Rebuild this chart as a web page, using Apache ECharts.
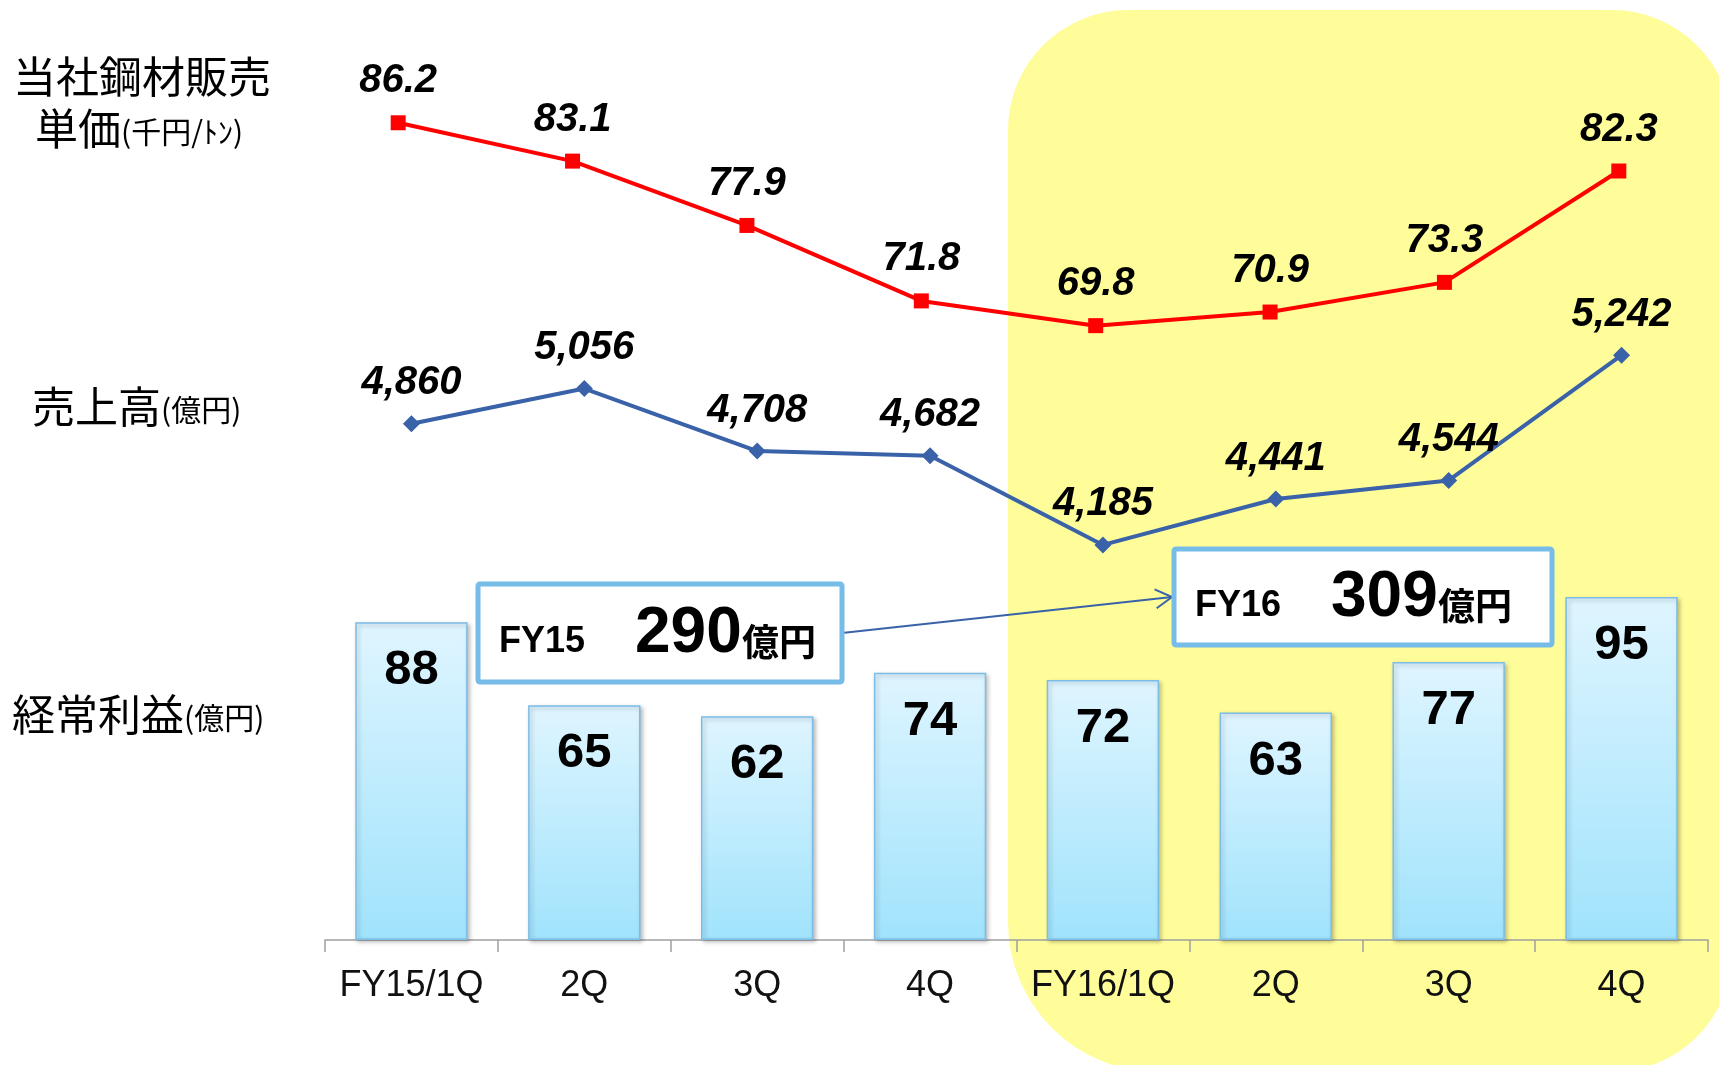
<!DOCTYPE html>
<html>
<head>
<meta charset="utf-8">
<script src="https://cdn.jsdelivr.net/npm/echarts@6/dist/echarts.min.js"></script>
<style>
html,body{margin:0;padding:0;background:#fff;}
#main{width:1719px;height:1065px;}
</style>
</head>
<body>
<div id="main"></div>
<script>
const categories = ['FY15/1Q', '2Q', '3Q', '4Q', 'FY16/1Q', '2Q', '3Q', '4Q'];
const priceValues = [86.2, 83.1, 77.9, 71.8, 69.8, 70.9, 73.3, 82.3];
const salesValues = [4860, 5056, 4708, 4682, 4185, 4441, 4544, 5242];
const profitValues = [88, 65, 62, 74, 72, 63, 77, 95];
const fyTotals = [{fy: 'FY15', value: 290}, {fy: 'FY16', value: 309}];

const chart = echarts.init(document.getElementById('main'), null, {renderer: 'canvas'});

const latin = '"Liberation Sans", Arial, sans-serif';
const cjk = '"Noto Sans CJK JP", sans-serif';

function fmtComma(v) {
  return String(v).replace(/\B(?=(\d{3})+(?!\d))/g, ',');
}

// arrow chevron
const ax0 = 842, ay0 = 633, ax1 = 1172, ay1 = 597;
const dx = ax1 - ax0, dy = ay1 - ay0, L = Math.sqrt(dx * dx + dy * dy);
const ux = -dx / L, uy = -dy / L;
const hl = 19, ang = Math.PI / 6;
function rot(x, y, a) { return [x * Math.cos(a) - y * Math.sin(a), x * Math.sin(a) + y * Math.cos(a)]; }
const h1 = rot(ux, uy, ang), h2 = rot(ux, uy, -ang);

const boxStyle = {fill: '#fff', stroke: '#76BCE9', lineWidth: 5};
const bigF = '43px ' + cjk, smallF = '30px ' + cjk;
const leftRich = {a: {font: bigF, verticalAlign: 'bottom'},
                  b: {font: smallF, verticalAlign: 'bottom', padding: [0, 0, 3, 0]}};

const option = {
  backgroundColor: '#fff',
  animation: false,
  grid: [
    {left: 325, right: 11, top: 40, bottom: 125},
    {left: 311, right: 13, top: 40, bottom: 125}
  ],
  xAxis: [
    {
      type: 'category', gridIndex: 0, data: categories, boundaryGap: true,
      axisLine: {show: true, lineStyle: {color: '#A0A0A0', width: 1.5}},
      axisTick: {show: true, length: 12, lineStyle: {color: '#A0A0A0', width: 1.5}},
      axisLabel: {color: '#111', fontSize: 36, fontFamily: latin, margin: 28, interval: 0}
    },
    {
      type: 'category', gridIndex: 1, data: categories, boundaryGap: true, show: false
    }
  ],
  yAxis: [
    {type: 'value', gridIndex: 0, min: 0, max: 249.3, show: false, splitLine: {show: false}},
    {type: 'value', gridIndex: 0, min: 1984, max: 6998, show: false, splitLine: {show: false}},
    {type: 'value', gridIndex: 1, min: 20.14, max: 92.89, show: false, splitLine: {show: false}}
  ],
  series: [
    {
      name: '経常利益', type: 'bar', xAxisIndex: 0, yAxisIndex: 0, data: profitValues,
      barWidth: '65%', z: 2,
      itemStyle: {
        color: new echarts.graphic.LinearGradient(0, 0, 0, 1, [
          {offset: 0, color: '#DFF5FF'}, {offset: 1, color: '#A0E3FC'}
        ]),
        borderColor: '#7CBDE8', borderWidth: 1.5,
        shadowBlur: 4, shadowColor: 'rgba(0,0,0,0.25)', shadowOffsetX: 2, shadowOffsetY: 2
      },
      label: {
        show: true, position: 'insideTop', distance: 24,
        fontSize: 49, fontWeight: 'bold', fontFamily: latin, color: '#000'
      }
    },
    {
      name: '売上高', type: 'line', xAxisIndex: 0, yAxisIndex: 1, data: salesValues, z: 5,
      symbol: 'diamond', symbolSize: 17,
      lineStyle: {color: '#3A62A9', width: 4},
      itemStyle: {color: '#3A62A9'},
      label: {
        show: true, position: 'top', distance: 12,
        fontSize: 40, fontWeight: 'bold', fontStyle: 'italic', fontFamily: latin, color: '#000',
        formatter: p => fmtComma(p.value)
      }
    },
    {
      name: '単価', type: 'line', xAxisIndex: 1, yAxisIndex: 2, data: priceValues, z: 5,
      symbol: 'rect', symbolSize: 15,
      lineStyle: {color: '#FF0000', width: 4},
      itemStyle: {color: '#FF0000'},
      label: {
        show: true, position: 'top', distance: 14,
        fontSize: 40, fontWeight: 'bold', fontStyle: 'italic', fontFamily: latin, color: '#000',
        formatter: p => p.value.toFixed(1)
      }
    }
  ],
  graphic: [
    {
      type: 'rect', z: -10, silent: true,
      shape: {x: 1008, y: 10, width: 724, height: 1062, r: [120, 120, 120, 150]},
      style: {fill: '#FFFD99'}
    },
    {type: 'text', left: 13, top: 55, z: 50,
      style: {text: '当社鋼材販売', font: bigF, fill: '#000'}},
    {type: 'text', left: 35, top: 107, z: 50,
      style: {text: '{a|単価}{b|(千円/ﾄﾝ)}', fill: '#000', rich: leftRich}},
    {type: 'text', left: 32, top: 385, z: 50,
      style: {text: '{a|売上高}{b|(億円)}', fill: '#000', rich: leftRich}},
    {type: 'text', left: 12, top: 693, z: 50,
      style: {text: '{a|経常利益}{b|(億円)}', fill: '#000', rich: leftRich}},
    // arrow
    {type: 'line', z: 60, shape: {x1: ax0, y1: ay0, x2: ax1, y2: ay1},
      style: {stroke: '#3A62A9', lineWidth: 2}},
    {type: 'polyline', z: 60,
      shape: {points: [[ax1 + h1[0] * hl, ay1 + h1[1] * hl], [ax1, ay1], [ax1 + h2[0] * hl, ay1 + h2[1] * hl]]},
      style: {stroke: '#3A62A9', lineWidth: 2, fill: null}},
    // FY15 box
    {type: 'rect', z: 70, shape: {x: 478, y: 584, width: 364, height: 98, r: 2}, style: boxStyle},
    {type: 'text', z: 71, x: 499, y: 642,
      style: {text: fyTotals[0].fy, font: 'bold 36px ' + latin, fill: '#000', textVerticalAlign: 'middle'}},
    {type: 'text', z: 71, x: 635, y: 634,
      style: {text: String(fyTotals[0].value), font: 'bold 64px ' + latin, fill: '#000', textVerticalAlign: 'middle'}},
    {type: 'text', z: 71, x: 742, y: 642,
      style: {text: '億円', font: 'bold 37px ' + cjk, fill: '#000', textVerticalAlign: 'middle'}},
    // FY16 box
    {type: 'rect', z: 70, shape: {x: 1174, y: 549, width: 378, height: 96, r: 2}, style: boxStyle},
    {type: 'text', z: 71, x: 1195, y: 606,
      style: {text: fyTotals[1].fy, font: 'bold 36px ' + latin, fill: '#000', textVerticalAlign: 'middle'}},
    {type: 'text', z: 71, x: 1331, y: 598,
      style: {text: String(fyTotals[1].value), font: 'bold 64px ' + latin, fill: '#000', textVerticalAlign: 'middle'}},
    {type: 'text', z: 71, x: 1438, y: 606,
      style: {text: '億円', font: 'bold 37px ' + cjk, fill: '#000', textVerticalAlign: 'middle'}}
  ]
};
chart.setOption(option);
</script>
</body>
</html>
